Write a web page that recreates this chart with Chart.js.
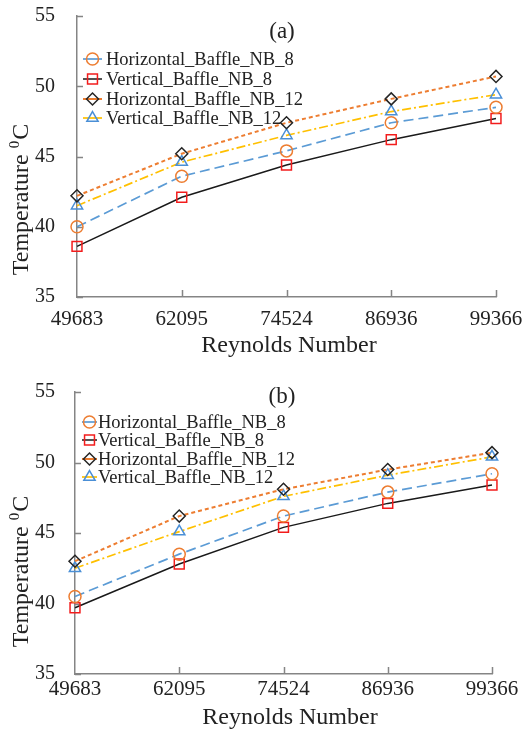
<!DOCTYPE html>
<html><head><meta charset="utf-8">
<script src="https://cdn.jsdelivr.net/npm/chart.js@4.4.1/dist/chart.umd.min.js"></script>
<style>html,body{margin:0;padding:0;background:#fff;overflow:hidden;} canvas{position:absolute;left:0;}</style>
</head><body>
<canvas id="ca" width="532" height="360" style="top:0px"></canvas>
<canvas id="cb" width="532" height="369" style="top:360px"></canvas>
<script>
// ---- data ----
const reynolds = ['49683', '62095', '74524', '86936', '99366'];
const seriesNames = ['Horizontal_Baffle_NB_8', 'Vertical_Baffle_NB_8', 'Horizontal_Baffle_NB_12', 'Vertical_Baffle_NB_12'];
const yTicks = [35, 40, 45, 50, 55];
const xTitle = 'Reynolds Number';
const yTitleMain = 'Temperature ';
const yTitleSup = '0';
const yTitleUnit = 'C';

const aH8  = [40.0, 43.6, 45.4, 47.4, 48.5];
const aV8  = [38.6, 42.1, 44.4, 46.2, 47.7];
const aH12 = [42.2, 45.2, 47.4, 49.1, 50.7];
const aV12 = [41.5, 44.6, 46.5, 48.2, 49.4];

const bH8  = [40.5, 43.5, 46.2, 47.9, 49.2];
const bV8  = [39.7, 42.8, 45.4, 47.1, 48.4];
const bH12 = [43.0, 46.2, 48.1, 49.5, 50.7];
const bV12 = [42.5, 45.1, 47.6, 49.1, 50.4];

// ---- styles ----
const SERIF = "'Liberation Serif','Times New Roman',serif";
const TEXT = '#222222';
const AXIS = '#858585';
const styles = [
  {line: '#5B9BD5', dash: [10, 5], lw: 1.7, point: 'circle', pr: 6, pc: '#ED7D31'},
  {line: '#1A1A1A', dash: [], lw: 1.5, point: 'rect', pr: 7, pc: '#F21C1C'},
  {line: '#ED7D31', dash: [4, 3], lw: 2, point: 'rectRot', pr: 6, pc: '#262626'},
  {line: '#FFC000', dash: [9, 3, 2, 3], lw: 1.7, point: 'triangle', pr: 6.5, pc: '#4A8FD6'}
];

function marker(ctx, type, x, y, r) {
  ctx.beginPath();
  if (type === 'circle') ctx.arc(x, y, r, 0, 2 * Math.PI);
  else if (type === 'rect') { const s = r * Math.SQRT1_2; ctx.rect(x - s, y - s, 2 * s, 2 * s); }
  else if (type === 'rectRot') { ctx.moveTo(x - r, y); ctx.lineTo(x, y - r); ctx.lineTo(x + r, y); ctx.lineTo(x, y + r); ctx.closePath(); }
  else if (type === 'triangle') {
    ctx.moveTo(x, y - r);
    ctx.lineTo(x + r * Math.sin(2 * Math.PI / 3), y - r * Math.cos(2 * Math.PI / 3));
    ctx.lineTo(x + r * Math.sin(4 * Math.PI / 3), y - r * Math.cos(4 * Math.PI / 3));
    ctx.closePath();
  }
  ctx.stroke();
}

function makeChart(id, panel, series, g) {
  const deco = {
    id: 'deco',
    beforeDatasetsDraw(chart) {
      const ctx = chart.ctx, xs = chart.scales.x, ys = chart.scales.y;
      ctx.save();
      ctx.strokeStyle = AXIS; ctx.lineWidth = 1.5;
      ctx.beginPath();
      yTicks.forEach(v => { const py = Math.round(ys.getPixelForValue(v)) + 0.5; ctx.moveTo(xs.left, py); ctx.lineTo(xs.left + 6, py); });
      reynolds.forEach((_, i) => { if (i === 0) return; const px = Math.round(xs.getPixelForValue(i)) + 0.5; ctx.moveTo(px, ys.bottom); ctx.lineTo(px, ys.bottom - 7); });
      ctx.stroke();
      ctx.restore();
    },
    afterDraw(chart) {
      const ctx = chart.ctx;
      ctx.save();
      ctx.fillStyle = TEXT;
      // panel label
      ctx.font = '23px ' + SERIF; ctx.textAlign = 'center'; ctx.textBaseline = 'middle';
      ctx.fillText(panel, g.panelX, g.panelY);
      // x title
      ctx.font = '24px ' + SERIF;
      ctx.fillText(xTitle, g.xtX, g.xtY);
      // y title (rotated, with superscript)
      ctx.save();
      ctx.translate(g.ytX, g.ytY);
      ctx.rotate(-Math.PI / 2);
      ctx.textAlign = 'left'; ctx.textBaseline = 'alphabetic';
      ctx.font = '24px ' + SERIF;
      const w1 = ctx.measureText(yTitleMain).width;
      const w3 = ctx.measureText(yTitleUnit).width;
      ctx.font = '15px ' + SERIF;
      const w2 = ctx.measureText(yTitleSup).width;
      let x0 = -(w1 + w2 + w3) / 2;
      ctx.font = '24px ' + SERIF;
      ctx.fillText(yTitleMain, x0, 0);
      ctx.font = '15px ' + SERIF;
      ctx.fillText(yTitleSup, x0 + w1, -9);
      ctx.font = '24px ' + SERIF;
      ctx.fillText(yTitleUnit, x0 + w1 + w2 + 1, 0);
      ctx.restore();
      // legend
      ctx.font = g.legFont + 'px ' + SERIF; ctx.textAlign = 'left'; ctx.textBaseline = 'middle';
      seriesNames.forEach((name, i) => {
        const st = styles[i], y = g.legY[i];
        ctx.strokeStyle = st.line; ctx.lineWidth = st.lw; ctx.setLineDash([]);
        ctx.beginPath(); ctx.moveTo(g.legX0, y); ctx.lineTo(g.legX1, y); ctx.stroke();
        ctx.strokeStyle = st.pc; ctx.lineWidth = 1.5;
        marker(ctx, st.point, (g.legX0 + g.legX1) / 2, y, st.pr);
        ctx.fillStyle = TEXT;
        ctx.fillText(name, g.legTX, y + 1);
      });
      ctx.restore();
    }
  };

  return new Chart(document.getElementById(id), {
    type: 'line',
    data: {
      labels: reynolds,
      datasets: series.map((d, i) => ({
        label: seriesNames[i],
        data: d,
        borderColor: styles[i].line,
        borderDash: styles[i].dash,
        borderWidth: styles[i].lw,
        tension: 0,
        fill: false,
        pointStyle: styles[i].point,
        pointRadius: styles[i].pr,
        pointBorderColor: styles[i].pc,
        pointBackgroundColor: 'rgba(0,0,0,0)',
        pointBorderWidth: 1.5
      }))
    },
    options: {
      responsive: false,
      animation: false,
      devicePixelRatio: 1,
      layout: {padding: {left: 0, top: g.top, right: g.right, bottom: 0}},
      plugins: {legend: {display: false}, tooltip: {enabled: false}, title: {display: false}},
      scales: {
        x: {
          type: 'category',
          offset: false,
          grid: {display: false, drawTicks: false},
          border: {display: true, color: AXIS, width: 1.5},
          ticks: {color: TEXT, font: {family: SERIF, size: 21, lineHeight: 1.2}, padding: g.xPad, maxRotation: 0, autoSkip: false},
          afterFit: s => { s.height = g.xH; s.paddingLeft = 10; s.paddingRight = 10; }
        },
        y: {
          min: 35, max: 55,
          grid: {display: false, drawTicks: false},
          border: {display: true, color: AXIS, width: 1.5},
          ticks: {color: TEXT, font: {family: SERIF, size: 20}, padding: g.yPad},
          afterBuildTicks: s => { s.ticks = yTicks.map(v => ({value: v})); },
          afterFit: s => { s.width = g.yW; s.paddingTop = 5; s.paddingBottom = 5; }
        }
      }
    },
    plugins: [deco]
  });
}

makeChart('ca', '(a)', [aH8, aV8, aH12, aV12], {
  top: 16, right: 36, xH: 63, yW: 77, xPad: 10, yPad: 22,
  panelX: 282, panelY: 32, xtX: 289, xtY: 346, ytX: 28, ytY: 200,
  legX0: 83, legX1: 102, legTX: 106, legY: [59, 79, 99, 118], legFont: 18.5
});
makeChart('cb', '(b)', [bH8, bV8, bH12, bV12], {
  top: 32, right: 40, xH: 55, yW: 75, xPad: 3, yPad: 20,
  panelX: 282, panelY: 37, xtX: 290, xtY: 358, ytX: 28, ytY: 212,
  legX0: 82, legX1: 97, legTX: 98, legY: [62, 80, 99, 117], legFont: 18.5
});
</script>
</body></html>
